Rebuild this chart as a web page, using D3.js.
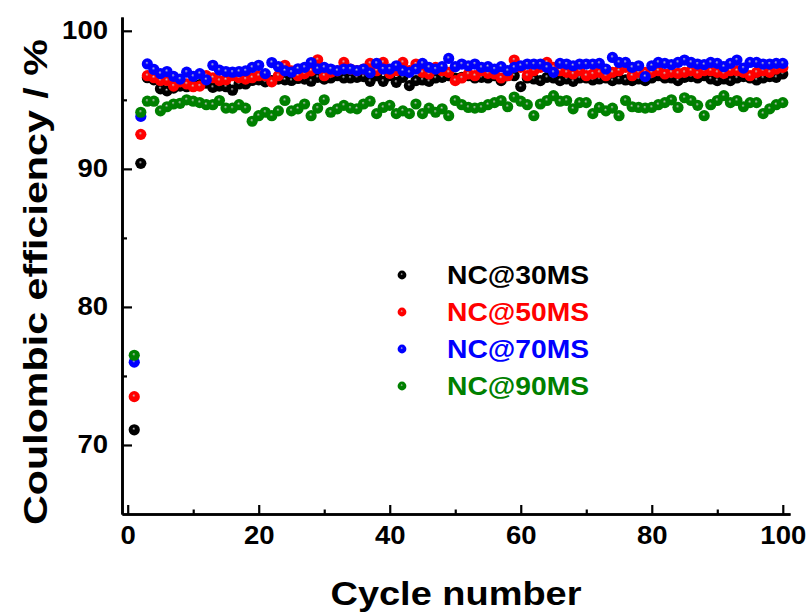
<!DOCTYPE html>
<html>
<head>
<meta charset="utf-8">
<script src="https://cdn.jsdelivr.net/npm/d3@7"></script>
<style>
  body { margin: 0; background: #fff; }
  svg { display: block; font-family: "Liberation Sans", Arial, sans-serif; font-weight: bold; }
</style>
</head>
<body>
<svg id="chart" width="806" height="612"></svg>
<script>
// cycle numbers 1..100
const cycles = d3.range(1, 101);

// coulombic efficiency (%)
const nc30 = [71.1, 90.4, 96.6, 96.45, 95.8, 95.65, 95.85, 96.0, 95.95, 96.0,
  96.1, 96.2, 95.9, 96.0, 95.95, 95.7, 96.15, 96.15, 96.4, 96.45,
  96.3, 96.4, 96.5, 96.45, 96.4, 96.55, 96.5, 96.35, 96.63, 96.5,
  96.58, 96.75, 96.58, 96.58, 96.63, 96.68, 96.34, 96.75, 96.34, 96.75,
  96.27, 96.63, 96.03, 96.39, 96.44, 96.34, 96.58, 96.63, 96.75, 96.58,
  96.63, 96.75, 96.58, 96.63, 96.58, 96.75, 96.39, 96.75, 96.75, 95.96,
  96.58, 96.51, 96.39, 96.63, 96.58, 96.39, 96.51, 96.34, 96.58, 96.58,
  96.44, 96.51, 96.58, 96.39, 96.51, 96.44, 96.39, 96.51, 96.39, 96.58,
  96.75, 96.58, 96.58, 96.39, 96.63, 96.68, 96.58, 96.75, 96.51, 96.39,
  96.51, 96.39, 96.58, 96.68, 96.58, 96.44, 96.58, 96.68, 96.63, 96.87];

const nc50 = [73.5, 92.5, 96.75, 96.6, 96.4, 96.4, 96.0, 96.3, 96.15, 95.95,
  96.0, 96.75, 96.6, 96.4, 96.45, 96.75, 96.6, 96.5, 96.6, 96.75,
  96.75, 96.3, 96.75, 97.5, 97.1, 96.75, 96.9, 97.1, 97.9, 96.75,
  97.0, 97.1, 97.71, 97.23, 97.11, 97.23, 97.64, 97.11, 97.71, 96.92,
  97.11, 97.71, 97.11, 97.59, 96.99, 96.87, 97.35, 97.11, 96.99, 96.39,
  96.58, 96.87, 96.75, 97.11, 96.92, 96.87, 96.58, 96.75, 97.88, 97.35,
  96.75, 97.11, 97.35, 97.71, 97.35, 97.11, 96.99, 96.87, 97.11, 96.75,
  96.87, 96.99, 96.75, 96.99, 97.11, 97.35, 96.75, 96.99, 96.99, 96.99,
  97.11, 96.87, 96.99, 96.92, 96.99, 97.11, 96.92, 97.11, 97.11, 96.99,
  96.92, 97.11, 97.11, 96.99, 96.75, 96.99, 97.11, 96.99, 97.23, 97.35];

const nc70 = [76.0, 93.8, 97.6, 97.2, 96.9, 97.05, 96.7, 96.5, 97.0, 96.7,
  96.9, 96.45, 97.5, 97.15, 97.05, 97.0, 97.05, 97.1, 97.35, 97.5,
  96.9, 97.7, 97.4, 97.1, 97.0, 97.25, 97.35, 97.7, 97.25, 97.35,
  97.23, 97.11, 97.23, 97.23, 97.11, 97.23, 96.95, 97.64, 97.23, 97.23,
  97.47, 97.11, 96.99, 97.23, 97.64, 97.35, 97.23, 97.4, 98.0, 97.4,
  97.59, 97.47, 97.59, 97.35, 97.4, 97.23, 97.4, 97.11, 97.35, 97.47,
  97.59, 97.59, 97.59, 97.35, 96.99, 97.64, 97.59, 97.47, 97.59, 97.59,
  97.59, 97.64, 97.23, 98.07, 97.71, 97.71, 97.35, 97.47, 96.68, 97.47,
  97.71, 97.64, 97.55, 97.71, 97.88, 97.71, 97.59, 97.55, 97.71, 97.64,
  97.4, 97.64, 97.88, 97.3, 97.71, 97.71, 97.59, 97.59, 97.64, 97.64];

const nc90 = [76.5, 94.1, 94.9, 94.9, 94.2, 94.5, 94.7, 94.75, 95.0, 94.9,
  94.8, 94.65, 94.65, 94.95, 94.4, 94.4, 94.65, 94.4, 93.45, 93.85,
  94.1, 93.85, 94.2, 94.95, 94.2, 94.35, 94.7, 93.85, 94.4, 95.0,
  94.1, 94.35, 94.6, 94.4, 94.35, 94.7, 94.9, 94.0, 94.45, 94.6,
  94.0, 94.2, 94.0, 94.7, 94.0, 94.4, 94.1, 94.35, 93.85, 94.95,
  94.65, 94.45, 94.4, 94.45, 94.65, 94.8, 94.95, 94.5, 95.2, 94.9,
  94.65, 93.85, 94.7, 94.95, 95.3, 94.9, 94.95, 94.35, 94.8, 94.8,
  94.0, 94.45, 94.2, 94.4, 93.85, 94.95, 94.5, 94.45, 94.4, 94.45,
  94.65, 94.8, 95.0, 94.45, 95.15, 94.95, 94.6, 93.85, 94.65, 94.95,
  95.3, 94.8, 94.95, 94.5, 94.8, 94.8, 94.0, 94.35, 94.65, 94.8];

const seriesNames = ["NC@30MS", "NC@50MS", "NC@70MS", "NC@90MS"];
const seriesValues = [nc30, nc50, nc70, nc90];
const seriesColors = ["#000000", "#ff0000", "#0000ff", "#008000"];

const xMajor = [0, 20, 40, 60, 80, 100];
const xMinor = [10, 30, 50, 70, 90];
const yMajor = [70, 80, 90, 100];
const yMinor = [75, 85, 95];

const svg = d3.select("#chart");

const x = d3.scaleLinear().domain([-0.87, 101.1]).range([122, 790]);
const y = d3.scaleLinear().domain([65, 101]).range([514, 17]);

// stretch text a bit wider, the original is horizontally stretched
function stretch(sel, k) {
    sel.each(function() {
        const w = this.getComputedTextLength();
        d3.select(this).attr("textLength", w * k).attr("lengthAdjust", "spacingAndGlyphs");
    });
}

// sphere-like gradients for markers (small grey highlight)
const defs = svg.append("defs");
seriesColors.forEach((c, i) => {
    const g = defs.append("radialGradient")
        .attr("id", "ball" + i)
        .attr("cx", "50%").attr("cy", "50%").attr("r", "50%")
        .attr("fx", "45%").attr("fy", "38%");
    g.append("stop").attr("offset", "0%").attr("stop-color", "#c8c8c8");
    g.append("stop").attr("offset", "14%").attr("stop-color", d3.interpolateRgb("#c8c8c8", c)(0.5));
    g.append("stop").attr("offset", "30%").attr("stop-color", c);
    g.append("stop").attr("offset", "100%").attr("stop-color", c);
});

// points
seriesValues.forEach((vals, i) => {
    svg.append("g")
        .selectAll("circle")
        .data(cycles)
        .enter()
        .append("circle")
        .attr("cx", d => x(d))
        .attr("cy", (d, j) => y(vals[j]))
        .attr("r", 5.6)
        .style("fill", "url(#ball" + i + ")");
});

// axes
const xAxis = d3.axisBottom(x).tickValues(xMajor).tickSize(-9).tickSizeOuter(0).tickPadding(12);
const xAxisMinor = d3.axisBottom(x).tickValues(xMinor).tickSize(-4.5).tickSizeOuter(0).tickFormat("");
const yAxis = d3.axisLeft(y).tickValues(yMajor).tickSize(-10).tickSizeOuter(0).tickPadding(14);
const yAxisMinor = d3.axisLeft(y).tickValues(yMinor).tickSize(-5).tickSizeOuter(0).tickFormat("");

function styleAxis(g) {
    g.select(".domain").attr("stroke", "#000").attr("stroke-width", 2.6);
    g.selectAll(".tick line").attr("stroke", "#000").attr("stroke-width", 2.2);
    g.selectAll(".tick text")
        .attr("fill", "#000")
        .style("font-size", "25px")
        .style("font-family", "'Liberation Sans', Arial, sans-serif")
        .style("font-weight", "bold");
}

svg.append("g").attr("transform", "translate(0,514)").call(xAxisMinor).call(styleAxis);
const gx = svg.append("g").attr("transform", "translate(0,514)").call(xAxis).call(styleAxis);
svg.append("g").attr("transform", "translate(122,0)").call(yAxisMinor).call(styleAxis);
const gy = svg.append("g").attr("transform", "translate(122,0)").call(yAxis).call(styleAxis);
gx.selectAll(".tick text").attr("dy", "0.71em").call(stretch, 1.1);
gy.selectAll(".tick text").call(stretch, 1.1);

// axis titles
svg.append("text")
    .attr("x", 456)
    .attr("y", 605)
    .attr("text-anchor", "middle")
    .style("font-size", "33px")
    .text("Cycle number")
    .call(stretch, 1.15);

svg.append("text")
    .attr("transform", "translate(47,282) rotate(-90)")
    .attr("text-anchor", "middle")
    .style("font-size", "33px")
    .text("Coulombic efficiency / %")
    .call(stretch, 1.25);

// legend
const legendRows = [275, 312, 349, 386];
const legend = svg.append("g");
seriesNames.forEach((name, i) => {
    legend.append("circle")
        .attr("cx", 402)
        .attr("cy", legendRows[i])
        .attr("r", 4.4)
        .style("fill", "url(#ball" + i + ")");
    legend.append("text")
        .attr("x", 447)
        .attr("y", legendRows[i] + 9)
        .style("font-size", "25px")
        .attr("fill", seriesColors[i])
        .text(name)
        .call(stretch, 1.13);
});
</script>
</body>
</html>
